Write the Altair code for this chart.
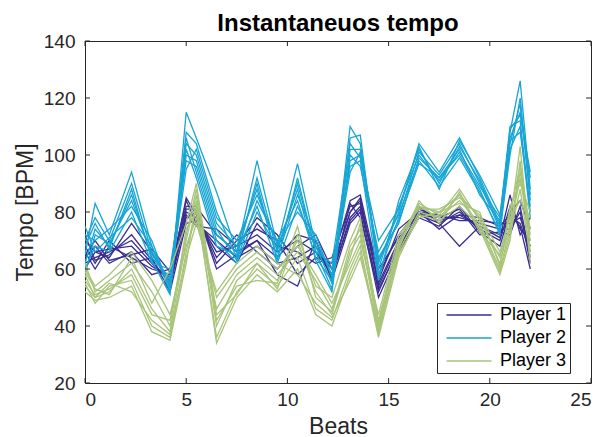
import altair as alt
import pandas as pd

beats = [0, 0.5, 1.2, 2.3, 3.3, 4.2, 5.0, 5.5, 6.5, 7.5, 8.5, 9.5, 10.5, 11.4,
         12.2, 13.1, 13.6, 14.5, 15.5, 16.5, 17.5, 18.5, 19.5, 20.5, 21.0, 21.5, 22.0]

player1 = [
    [62,64,66,70,62,56,80,78,66,68,72,66,70,66,60,80,84,55,70,80,77,79,75,72,78,76,66],
    [66,60,68,64,60,58,84,76,70,64,68,62,64,68,58,78,82,52,68,79,76,80,74,70,82,74,70],
    [70,66,64,76,66,54,78,80,62,70,74,70,58,64,62,84,86,58,72,81,78,78,76,74,74,80,62],
    [64,68,62,66,58,60,82,82,72,66,70,64,72,70,56,76,80,50,66,78,75,82,73,68,80,84,74],
    [68,62,70,62,64,52,76,77,68,62,76,68,66,62,64,82,83,56,74,80,79,77,77,76,76,78,68],
    [60,66,67,68,61,57,85,79,64,72,66,60,68,72,60,80,85,54,69,82,76,68,75,71,86,72,78],
    [72,63,65,72,63,55,79,75,74,68,78,72,62,66,58,77,81,60,71,79,78,81,72,73,72,82,64],
    [65,70,63,65,67,59,81,81,60,65,70,58,54,70,57,83,78,53,67,80,74,79,78,75,79,75,60],
]
player2 = [
    [65,83,72,94,68,52,115,106,87,66,98,68,97,68,55,110,104,62,80,104,94,106,92,76,108,126,88],
    [70,78,70,90,66,55,108,104,80,64,92,66,90,66,53,106,107,58,78,101,93,104,90,74,104,118,84],
    [62,74,68,86,64,57,104,100,76,68,88,64,86,70,58,102,102,60,82,100,91,101,89,78,110,112,80],
    [72,70,74,82,70,53,100,98,74,63,84,70,84,64,56,98,100,64,76,99,92,100,88,72,106,115,92],
    [60,68,66,80,62,60,98,96,72,66,82,62,82,68,60,96,98,56,84,102,90,103,91,75,102,110,78],
    [75,66,71,78,68,54,106,94,70,62,80,67,88,63,52,100,96,66,79,98,89,99,87,73,100,120,86],
    [58,72,69,84,65,56,95,102,78,70,86,69,80,72,57,94,101,63,77,97,92,102,86,77,109,114,94],
    [68,76,67,88,63,51,102,92,68,65,90,63,92,66,62,104,99,70,81,103,88,105,93,79,105,108,82],
]
player3 = [
    [58,50,52,60,46,38,70,86,40,56,62,56,70,52,44,66,72,40,68,82,80,86,78,62,76,103,66],
    [55,48,54,56,40,36,66,82,36,52,60,54,64,46,42,60,68,37,66,80,78,84,76,60,74,92,70],
    [62,52,56,62,52,40,74,80,46,58,64,58,66,56,46,64,76,42,70,83,79,88,77,64,80,96,74],
    [52,49,50,54,38,35,62,84,34,50,58,52,60,44,40,58,66,36,64,79,77,82,75,59,72,88,64],
    [60,54,58,66,56,44,68,78,50,60,66,60,68,58,48,62,70,44,72,81,81,85,79,66,78,84,78],
    [56,51,53,58,44,42,72,88,42,54,56,55,75,50,45,68,74,38,67,84,76,87,74,58,70,98,62],
    [54,50,55,52,42,37,64,76,52,62,68,62,58,48,43,56,64,39,65,78,80,83,80,61,82,90,80],
    [59,53,51,64,48,60,76,90,44,51,62,53,72,54,50,70,78,41,69,82,78,86,73,65,75,94,72],
]

players = ["Player 1", "Player 2", "Player 3"]
colors = ["#3A2D91", "#17A5D4", "#A8C47A"]
x_ticks = [0, 5, 10, 15, 20, 25]
y_ticks = [20, 40, 60, 80, 100, 120, 140]

rows = []
order = 0
for pname, takes in zip(players, [player1, player2, player3]):
    for ti, take in enumerate(takes):
        order += 1
        for b, t in zip(beats, take):
            rows.append({"beat": b, "tempo": t, "player": pname,
                         "line": f"{pname}-{ti}", "z": order})
df = pd.DataFrame(rows)

W, H = 506, 342
font = "Liberation Sans"
axis_style = dict(grid=False, ticks=False, domain=False,
                  labelFont=font, labelFontSize=19, labelColor="#262626",
                  titleFont=font, titleFontSize=23, titleColor="#262626",
                  titleFontWeight="normal")

xs = alt.Scale(domain=[0, 25], nice=False, zero=False)
ys = alt.Scale(domain=[20, 140], nice=False, zero=False)

lines = alt.Chart(df).mark_line(strokeWidth=1.3, clip=True).encode(
    x=alt.X("beat:Q", scale=xs,
            axis=alt.Axis(values=x_ticks, title="Beats", labelPadding=7,
                          titlePadding=6, **axis_style)),
    y=alt.Y("tempo:Q", scale=ys,
            axis=alt.Axis(values=y_ticks, title="Tempo [BPM]", labelPadding=10,
                          titlePadding=6, **axis_style)),
    color=alt.Color("player:N", scale=alt.Scale(domain=players, range=colors),
                    legend=alt.Legend(title=None, orient="none", legendX=352, legendY=262,
                                      symbolType="M-3,0H3", symbolSize=225,
                                      symbolStrokeWidth=1.6, symbolOffset=20,
                                      labelFontSize=18, labelFont=font,
                                      labelColor="#000000", labelOffset=22,
                                      strokeColor="#262626", fillColor="white",
                                      padding=3, rowPadding=5)),
    detail="line:N",
    order="z:Q",
)

xt = pd.DataFrame({"v": x_ticks})
yt = pd.DataFrame({"v": y_ticks})

xb = alt.Chart(xt).mark_rule(color="#262626", strokeWidth=1).encode(
    x=alt.X("v:Q", scale=xs), y=alt.value(H), y2=alt.value(H - 5))
xtop = alt.Chart(xt).mark_rule(color="#262626", strokeWidth=1).encode(
    x=alt.X("v:Q", scale=xs), y=alt.value(0), y2=alt.value(5))
yl = alt.Chart(yt).mark_rule(color="#262626", strokeWidth=1).encode(
    y=alt.Y("v:Q", scale=ys), x=alt.value(0), x2=alt.value(5))
yr = alt.Chart(yt).mark_rule(color="#262626", strokeWidth=1).encode(
    y=alt.Y("v:Q", scale=ys), x=alt.value(W), x2=alt.value(W - 5))

chart = alt.layer(lines, xb, xtop, yl, yr).properties(
    width=W, height=H,
    background="white",
    title=alt.TitleParams("Instantaneuos tempo", font=font, fontSize=24,
                          fontWeight="bold", color="#000000", offset=8,
                          dy=12, frame="group"),
    autosize=alt.AutoSizeParams(type="none"),
    padding={"left": 85, "top": 41, "right": 13, "bottom": 54},
).configure_view(
    stroke="#262626", strokeWidth=1
)

chart.save("out.html", embed_options={"renderer": "svg", "actions": False})
